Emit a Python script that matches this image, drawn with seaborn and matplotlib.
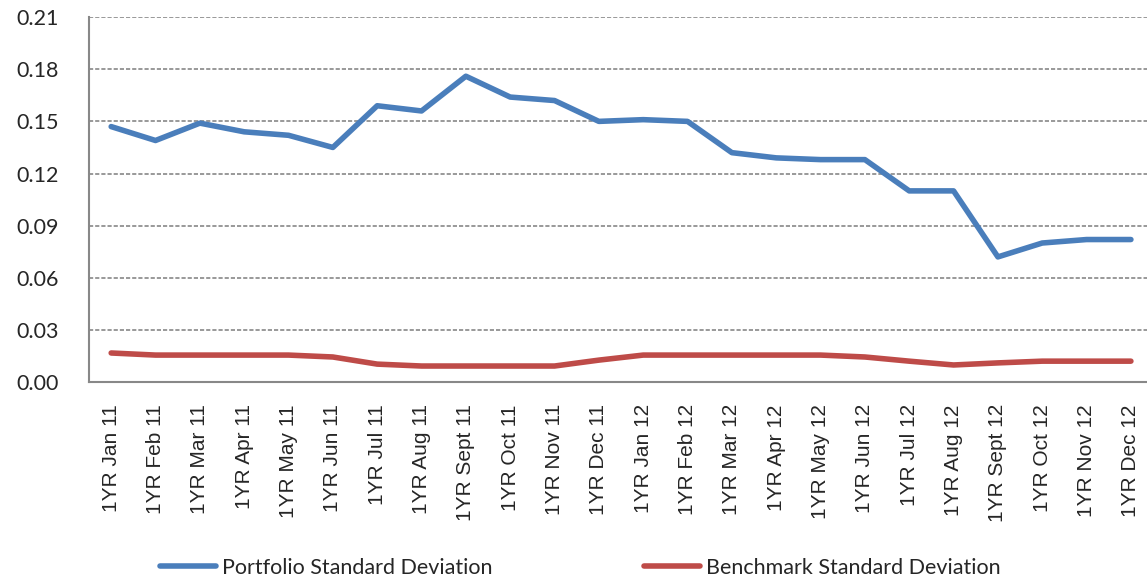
import numpy as np
import pandas as pd
import matplotlib.pyplot as plt
import seaborn as sns

months = ['Jan', 'Feb', 'Mar', 'Apr', 'May', 'Jun', 'Jul', 'Aug', 'Sept', 'Oct', 'Nov', 'Dec']
labels = ['1YR %s %s' % (m, y) for y in ['11', '12'] for m in months]

portfolio = [0.147, 0.139, 0.149, 0.144, 0.142, 0.135, 0.159, 0.156, 0.176, 0.164, 0.162, 0.150,
             0.151, 0.150, 0.132, 0.129, 0.128, 0.128, 0.110, 0.110, 0.072, 0.080, 0.082, 0.082]
benchmark = [0.0167, 0.0155, 0.0155, 0.0155, 0.0155, 0.0144, 0.0103, 0.0092, 0.0092, 0.0092, 0.0092, 0.0126,
             0.0155, 0.0155, 0.0155, 0.0155, 0.0155, 0.0144, 0.0120, 0.0098, 0.0110, 0.0120, 0.0120, 0.0120]
yticks = [0.00, 0.03, 0.06, 0.09, 0.12, 0.15, 0.18, 0.21]

df = pd.DataFrame({'idx': list(range(len(labels))) * 2,
                   'value': portfolio + benchmark,
                   'series': ['Portfolio Standard Deviation'] * len(labels) + ['Benchmark Standard Deviation'] * len(labels)})

sns.set_style('white')
fig = plt.figure(figsize=(11.47, 5.81), dpi=100)
ax = fig.add_axes([0.0776, 0.3425, 0.9277, 0.628])

sns.lineplot(data=df, x='idx', y='value', hue='series',
             palette=['#4A7EBB', '#BE4B48'], linewidth=4, ax=ax, legend=True)
for ln in ax.lines:
    ln.set_solid_capstyle('round')

ax.set_xlim(-0.5, len(labels) - 0.5)
ax.set_ylim(0, 0.21)
ax.set_yticks(yticks)
ax.set_yticklabels(['%.2f' % v for v in yticks], fontsize=15.5, family='Lato')
ax.set_xticks(range(len(labels)))
ax.set_xticklabels(labels, rotation=90, fontsize=15, family='Liberation Sans')
ax.tick_params(axis='both', length=0)
ax.tick_params(axis='x', pad=16)
ax.tick_params(axis='y', pad=22)
ax.set_xlabel('')
ax.set_ylabel('')

ax.yaxis.grid(True, linestyle=(0, (2.5, 1.2)), color='#888888', linewidth=1.2)
ax.set_axisbelow(True)
for side in ['top', 'right']:
    ax.spines[side].set_visible(False)
for side in ['left', 'bottom']:
    ax.spines[side].set_color('#888888')
    ax.spines[side].set_linewidth(1.5)

handles, names = ax.get_legend_handles_labels()
ax.get_legend().remove()
fig.legend(handles, names, loc='center', bbox_to_anchor=(0.506, 0.0224), ncol=2, frameon=False,
           handlelength=2.6, handletextpad=0.3, columnspacing=7.0,
           prop={'family': 'Lato', 'size': 15.5})

fig.savefig('out.png', dpi=100)
